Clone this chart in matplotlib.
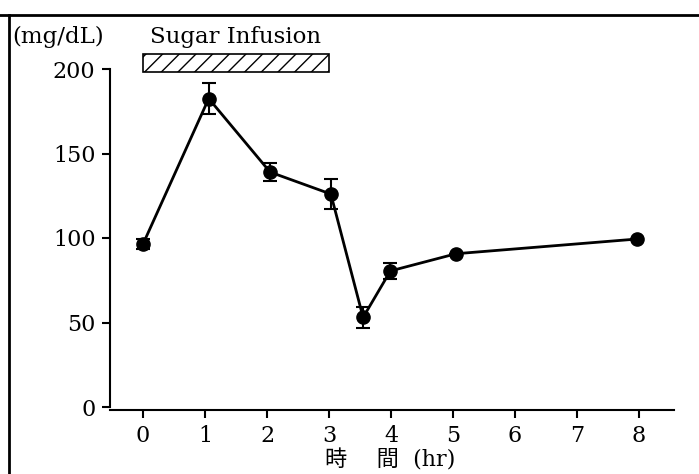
import numpy as np
import matplotlib
matplotlib.use('Agg')
import matplotlib.pyplot as plt
from matplotlib.patches import Rectangle
from matplotlib.lines import Line2D

# blood sugar after infusion
hours = [0, 1.06, 2.05, 3.03, 3.55, 3.99, 5.05, 7.97]
glucose = [96.4, 182.5, 139, 126, 53, 80.5, 90.7, 99.4]
sem = [3, 9, 5.5, 8.8, 6.2, 4.7, 0, 0]
xticks = [0, 1, 2, 3, 4, 5, 6, 7, 8]
yticks = [0, 50, 100, 150, 200]
infusion = (0, 3)

W, H = 699, 474
fig = plt.figure(figsize=(W / 100, H / 100), dpi=100)
# axes box in pixels: x 100..680, y 30..410
ax = fig.add_axes([100 / W, (H - 410) / H, 580 / W, 380 / H])
ax.set_xlim(-(143 - 100) / 62, (680 - 143) / 62)
ax.set_ylim(-(410 - 407) / 1.69, (407 - 30) / 1.69)

serif = ['DejaVu Serif', 'Noto Sans CJK JP']

ax.errorbar(hours, glucose, yerr=sem, fmt='none', ecolor='black',
            elinewidth=1.5, capsize=5, capthick=1.5, zorder=2)
ax.plot(hours, glucose, color='black', lw=2, marker='o', ms=9.5, zorder=3)

ax.add_patch(Rectangle((infusion[0], 198), infusion[1] - infusion[0], 11,
                       facecolor='white', edgecolor='black', lw=1.2,
                       hatch='//', clip_on=False))
ax.text(sum(infusion) / 2, 219, 'Sugar Infusion', ha='center', va='center',
        fontsize=16.5, family=serif)

for s in ['top', 'right']:
    ax.spines[s].set_visible(False)
ax.spines['left'].set_position(('data', -0.53))
ax.spines['left'].set_bounds(0, 200)
ax.spines['bottom'].set_bounds(-0.53, 8.57)
for s in ['left', 'bottom']:
    ax.spines[s].set_linewidth(1.5)

ax.set_xticks(xticks)
ax.set_yticks(yticks)
ax.tick_params(width=1.5, length=5.5, labelsize=16, pad=5)
for lab in ax.get_xticklabels() + ax.get_yticklabels():
    lab.set_family(serif)
ax.set_xlabel('時　 間  (hr)', fontsize=16, family=serif, labelpad=2)

fig.text(12 / W, 1 - 37 / H, '(mg/dL)', ha='left', va='center',
         fontsize=16.5, family=serif)

# frame of the figure (top and left only)
fig.add_artist(Line2D([0, 1], [1 - 15 / H, 1 - 15 / H], color='black', lw=2,
                      transform=fig.transFigure))
fig.add_artist(Line2D([9 / W, 9 / W], [0, 1 - 15 / H], color='black', lw=2,
                      transform=fig.transFigure))

fig.savefig('out.png', dpi=100)
